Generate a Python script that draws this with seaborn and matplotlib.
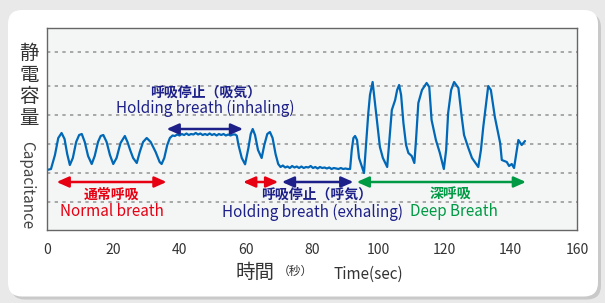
import matplotlib
matplotlib.use("Agg")
import matplotlib.pyplot as plt
from matplotlib.patches import FancyBboxPatch
import numpy as np
import pandas as pd
import seaborn as sns

# capacitance trace (time in sec, height in arbitrary units)
normal_t = [0, 1.2, 2.4, 3.4, 4.4, 5.3, 6.1, 6.9, 7.8, 8.8, 9.7, 10.5, 11.4, 12.4, 13.5,
            14.4, 15.4, 16.2, 17.0, 18.0, 19.0, 20.0, 21.0, 22.2, 23.5, 24.3, 25.1, 26.0,
            27.1, 28.0, 29.0, 30.1, 31.3, 32.8, 34.0, 34.6, 35.4, 36.3, 37.1]
normal_v = [60, 61, 75, 92, 97, 91, 76, 65, 72, 88, 95, 96, 88, 74, 66,
            74, 88, 94, 95, 88, 75, 66, 72, 87, 94, 88, 80, 72,
            67, 78, 88, 92, 88, 78, 68, 66, 72, 85, 92]

inhale_t = [37.9, 38.6, 39.3, 40.0, 40.7, 41.4, 42.1, 42.8, 43.5, 44.2, 44.9, 45.6, 46.3,
            47.0, 47.7, 48.4, 49.1, 49.8, 50.5, 51.2, 51.9, 52.6, 53.3, 54.0, 54.7, 55.4,
            56.1, 56.8, 57.3]
inhale_v = [94.5, 94, 95.5, 94.5, 96, 95, 96.5, 95, 96, 95.5, 97, 95.5, 96.5,
            95, 96, 95, 96.5, 95, 96, 94.5, 96, 95, 96, 94.5, 95.5, 94.5,
            95.5, 95.5, 94.3]

short_t = [57.8, 58.8, 59.8, 60.8, 61.5, 62.1, 62.8, 63.7, 64.8, 65.6, 66.5, 67.3, 68.1,
           69.0, 69.8]
short_v = [85, 72, 65.7, 82, 96, 101, 95, 80, 72, 85, 96, 98, 92,
           76, 66]

exhale_t = [70.5, 71.2, 71.9, 72.6, 73.3, 74.0, 74.7, 75.4, 76.1, 76.8, 77.5, 78.2, 78.9,
            79.6, 80.3, 81.0, 81.7, 82.4, 83.1, 83.8, 84.5, 85.2, 85.9, 86.6, 87.3, 88.0,
            88.7, 89.4, 90.1, 90.8]
exhale_v = [63, 64.5, 62.5, 63.5, 62, 64, 62.5, 63.5, 62, 63.5, 62, 63, 62.5,
            64, 62, 63, 61.5, 63, 62, 62.5, 61.5, 62.5, 61, 62, 61.5, 61,
            62, 61, 61.5, 61]

deep_t = [91.5, 92.0, 92.5, 93.0, 93.6, 94.2, 95.7, 97.0, 97.5, 98.3, 99.0, 100.5, 101.4,
          102.7, 104.1, 105.1, 105.7, 106.3, 106.9, 107.6, 108.4, 109.1, 110.1, 110.9,
          111.4, 112.1, 113.2, 114.6, 115.4, 116.1, 117.4, 118.6, 119.8,
          120.5, 121.1, 122.0, 122.9, 124.2, 125.2, 125.9, 127.2, 128.3, 130.2,
          131.0, 131.7, 133.2, 134.0, 135.2, 136.8, 137.3, 138.8, 139.5, 140.3, 141.0,
          141.6, 142.3, 143.3, 144.3]
deep_v = [61, 80, 92, 94, 90, 72, 57, 117, 135, 148, 127, 83, 72,
          63, 120, 130, 140, 145, 135, 107, 85, 77, 74, 67,
          90, 127, 140, 147, 143, 110, 90, 77, 61,
          80, 117, 140, 148, 142, 113, 95, 82, 72, 63,
          80, 103, 144, 140, 113, 87, 70, 68, 64, 66, 62,
          75, 90, 85, 89]

time = normal_t + inhale_t + short_t + exhale_t + deep_t
cap = normal_v + inhale_v + short_v + exhale_v + deep_v
df = pd.DataFrame({"time": time, "cap": cap})

# phases marked with arrows below / above the trace
phase_start = [2.9, 36.1, 59.2, 70.9, 93.5]
phase_end = [36.1, 59.2, 69.8, 92.5, 144.6]
phase_level = [48, 101, 48, 48, 48]
RED, NAVY, GREEN = "#e60012", "#1d2088", "#009944"
phase_color = [RED, NAVY, RED, NAVY, GREEN]

grid_levels = [28, 57, 86, 115, 144, 178]

sns.set_theme(style="white")
plt.rcParams["font.family"] = ["Noto Sans CJK JP", "DejaVu Sans"]

fig = plt.figure(figsize=(6.05, 3.03), dpi=100)
fig.patch.set_facecolor("#e9e9e9")

# white rounded card with a soft shadow
shadow = FancyBboxPatch((0.11, 0.035), 5.9, 2.86, boxstyle="round,pad=0,rounding_size=0.14",
                        transform=fig.dpi_scale_trans, facecolor="#c9c9c9", edgecolor="none",
                        zorder=-2)
card = FancyBboxPatch((0.08, 0.065), 5.9, 2.865, boxstyle="round,pad=0,rounding_size=0.14",
                      transform=fig.dpi_scale_trans, facecolor="white", edgecolor="none",
                      zorder=-1)
fig.patches.extend([shadow, card])

ax = fig.add_axes([47 / 605, 1 - 230 / 303, 530 / 605, 202 / 303])
ax.set_facecolor("#f4f6f6")

sns.lineplot(data=df, x="time", y="cap", ax=ax, color="#0068b7", lw=1.6, estimator=None)

ax.set_xlim(0, 160)
ax.set_ylim(0, 202)
ax.set_xticks(range(0, 161, 20))
ax.set_yticks(grid_levels)
ax.set_yticklabels([])
ax.set_xlabel("")
ax.set_ylabel("")
ax.tick_params(axis="x", direction="in", length=5, width=1, color="#555555",
               labelsize=10, labelcolor="#333333", pad=9)
ax.tick_params(axis="y", length=0)
ax.grid(axis="y", color="#9a9a9a", lw=1.2, linestyle=(0, (2, 2.6)))
for s in ax.spines.values():
    s.set_color("#666666")
    s.set_linewidth(1)

for x0, x1, lvl, c in zip(phase_start, phase_end, phase_level, phase_color):
    ax.annotate("", xy=(x1, lvl), xytext=(x0, lvl),
                arrowprops=dict(arrowstyle="<|-|>,head_length=0.45,head_width=0.2",
                                color=c, lw=1.8, mutation_scale=16,
                                shrinkA=0, shrinkB=0))

jp = dict(ha="center", va="center", fontsize=10, fontweight="bold")
en = dict(ha="center", va="center", fontsize=11)
ax.text(19.5, 35, "通常呼吸", color=RED, **jp)
ax.text(19.5, 18, "Normal breath", color=RED, **en)
ax.text(47.9, 137, "呼吸停止（吸気）", color=NAVY, **jp)
ax.text(47.9, 122, "Holding breath (inhaling)", color=NAVY, **en)
ax.text(81.4, 35, "呼吸停止（呼気）", color=NAVY, **jp)
ax.text(80.1, 18, "Holding breath (exhaling)", color=NAVY, **en)
ax.text(121.7, 35, "深呼吸", color=GREEN, **jp)
ax.text(122.8, 18, "Deep Breath", color=GREEN, **en)

# axis titles
fig.text(29 / 605, 1 - 86 / 303, "静\n電\n容\n量", ha="center", va="center",
         fontsize=14, color="#333333", linespacing=1.05)
fig.text(27 / 605, 1 - 185 / 303, "Capacitance", ha="center", va="center",
         rotation=270, fontsize=11, color="#444444")
fig.text(255 / 605, 1 - 272 / 303, "時間", ha="center", va="center",
         fontsize=14, color="#333333")
fig.text(295 / 605, 1 - 271 / 303, "（秒）", ha="center", va="center",
         fontsize=8.5, color="#333333")
fig.text(333 / 605, 1 - 274 / 303, "Time(sec)", ha="left", va="center",
         fontsize=11, color="#333333")

fig.savefig("out.png", dpi=100)
